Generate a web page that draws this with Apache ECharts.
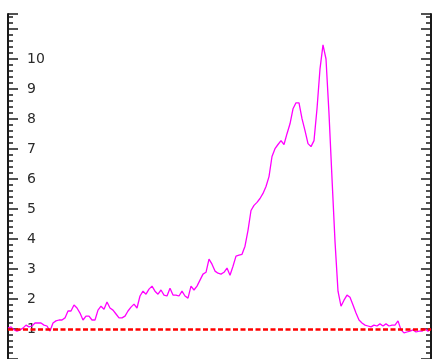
<!DOCTYPE html>
<html>
<head>
<meta charset="utf-8">
<style>
  html, body { margin: 0; padding: 0; background: #ffffff; }
  #chart { width: 436px; height: 359px; }
</style>
<script src="https://cdn.jsdelivr.net/npm/echarts@6/dist/echarts.min.js"></script>
</head>
<body>
<div id="chart"></div>
<script>
// Ratio series, one sample per step
const ratio = [
  1.03, 1.07, 0.97, 0.93, 0.97, 1.03, 1.13, 1.07, 1.10, 1.20,
  1.20, 1.20, 1.13, 1.10, 0.93, 1.20, 1.27, 1.30, 1.30, 1.37,
  1.60, 1.60, 1.80, 1.70, 1.53, 1.30, 1.43, 1.43, 1.30, 1.30,
  1.63, 1.76, 1.66, 1.90, 1.70, 1.63, 1.50, 1.37, 1.37, 1.43,
  1.60, 1.73, 1.83, 1.70, 2.10, 2.26, 2.16, 2.33, 2.43, 2.26,
  2.16, 2.30, 2.13, 2.10, 2.36, 2.13, 2.13, 2.10, 2.26, 2.10,
  2.03, 2.43, 2.30, 2.43, 2.63, 2.83, 2.89, 3.33, 3.16, 2.93,
  2.86, 2.83, 2.89, 3.03, 2.79, 3.09, 3.43, 3.46, 3.49, 3.76,
  4.29, 4.95, 5.12, 5.22, 5.35, 5.52, 5.75, 6.08, 6.75, 7.01,
  7.15, 7.28, 7.15, 7.51, 7.84, 8.34, 8.54, 8.54, 8.01, 7.61,
  7.18, 7.08, 7.28, 8.34, 9.67, 10.47, 10.00, 8.18, 6.02, 3.92,
  2.26, 1.76, 1.96, 2.13, 2.06, 1.80, 1.53, 1.30, 1.20, 1.13,
  1.10, 1.07, 1.13, 1.10, 1.17, 1.10, 1.17, 1.10, 1.13, 1.13,
  1.27, 0.97, 0.87, 0.90, 0.93, 0.97, 0.90, 0.93, 0.93, 1.00,
  0.93, 1.00
];
const steps = ratio.map((_, i) => i);
// Reference level drawn as a dashed rule
const baseline = 1;
// Tick labels shown on the left scale
const yLabels = [1, 2, 3, 4, 5, 6, 7, 8, 9, 10];

const chart = echarts.init(document.getElementById('chart'), null, { renderer: 'canvas' });

const axisCommon = {
  type: 'value',
  min: 0,
  max: 11.5,
  interval: 1,
  splitLine: { show: false },
  axisLine: { show: true, lineStyle: { color: '#1a1a1a', width: 2 } },
  axisTick: { show: true, inside: true, length: 10, lineStyle: { color: '#1a1a1a', width: 1.5 } },
  minorTick: { show: true, splitNumber: 5, length: 5, lineStyle: { color: '#1a1a1a', width: 1.5 } },
  minorSplitLine: { show: false }
};

chart.setOption({
  backgroundColor: '#ffffff',
  animation: false,
  grid: { left: 8, right: 5, top: 14, height: 347, containLabel: false },
  xAxis: {
    type: 'category',
    data: steps,
    boundaryGap: false,
    show: false
  },
  yAxis: [
    Object.assign({}, axisCommon, {
      position: 'left',
      axisLabel: {
        show: true,
        inside: true,
        margin: 19,
        color: '#2a2a2a',
        fontFamily: 'DejaVu Sans',
        fontSize: 14,
        formatter: v => (yLabels.indexOf(v) >= 0 ? String(v) : '')
      }
    }),
    Object.assign({}, axisCommon, {
      position: 'right',
      axisLabel: { show: false }
    })
  ],
  series: [
    {
      type: 'line',
      data: ratio,
      showSymbol: false,
      lineStyle: { color: '#ff00ff', width: 1.3 },
      z: 2
    },
    {
      type: 'line',
      data: [],
      z: 5,
      markLine: {
        silent: true,
        symbol: ['none', 'none'],
        label: { show: false },
        lineStyle: { color: '#ff0000', width: 2.5, type: [5, 2.5] },
        data: [{ yAxis: baseline }]
      }
    }
  ]
});
</script>
</body>
</html>
